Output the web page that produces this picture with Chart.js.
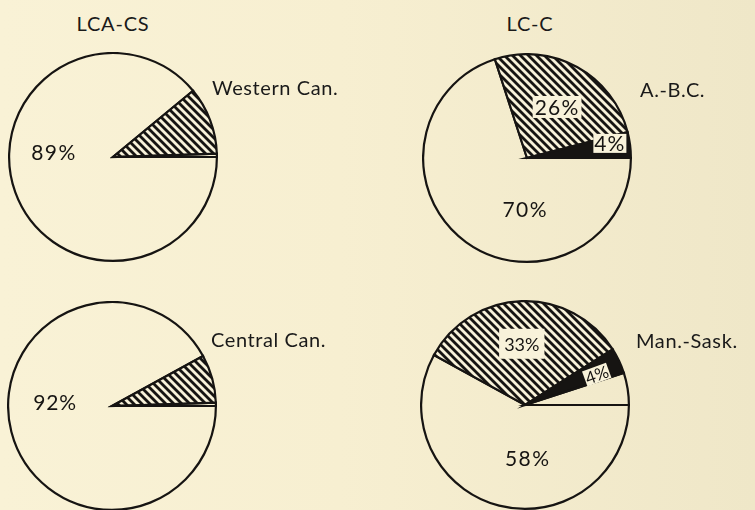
<!DOCTYPE html>
<html>
<head>
<meta charset="utf-8">
<script src="https://cdn.jsdelivr.net/npm/chart.js@4.4.1/dist/chart.umd.min.js"></script>
<style>
  html, body { margin:0; padding:0; }
  body { width:755px; height:510px; overflow:hidden; position:relative;
         background: linear-gradient(90deg, #f9f2d6 0%, #f7efd1 45%, #efe7c8 100%);
         font-family: Lato, "Noto Sans", sans-serif; color:#1a1a1a; }
  canvas { position:absolute; }
  .lbl { position:absolute; font-size:20px; letter-spacing:0.6px; white-space:nowrap; transform:translateY(-50%); }
  .ttl { position:absolute; font-size:20px; letter-spacing:0.8px; white-space:nowrap; transform:translate(-50%,-50%); }
</style>
</head>
<body>
<canvas id="c1" width="210" height="210" style="left:8px;top:52px"></canvas>
<canvas id="c2" width="210" height="210" style="left:422px;top:53px"></canvas>
<canvas id="c3" width="210" height="210" style="left:7px;top:301px"></canvas>
<canvas id="c4" width="210" height="210" style="left:420px;top:300px"></canvas>
<div class="ttl" id="t1" style="left:113px;top:23px"></div>
<div class="ttl" id="t2" style="left:530px;top:23px"></div>
<div class="lbl" id="r1" style="left:212px;top:87px"></div>
<div class="lbl" id="r2" style="left:640px;top:89px"></div>
<div class="lbl" id="r3" style="left:211px;top:339px"></div>
<div class="lbl" id="r4" style="left:636px;top:340px"></div>
<script>
// ---- data ----
const groups = ['LCA-CS', 'LC-C'];
const regions = ['Western Can.', 'A.-B.C.', 'Central Can.', 'Man.-Sask.'];
// slices listed clockwise starting from the 3 o'clock radius
const westernCanShares = [89, 10.5, 0.5];
const westernCanKinds  = ['plain', 'hatched', 'plain'];
const abcShares        = [70, 26, 4];
const abcKinds         = ['plain', 'hatched', 'solid'];
const centralCanShares = [92, 7.5, 0.5];
const centralCanKinds  = ['plain', 'hatched', 'plain'];
const manSaskShares    = [58, 33, 4, 5];
const manSaskKinds     = ['plain', 'hatched', 'solid', 'plain'];

// ---- styles ----
const INK = '#161412';
const PAPER = '#f8f2da';

function hatchPattern() {
  const s = 8;
  const c = document.createElement('canvas');
  c.width = s; c.height = s;
  const x = c.getContext('2d');
  x.fillStyle = PAPER; x.fillRect(0, 0, s, s);
  x.strokeStyle = INK; x.lineWidth = 2.8; x.lineCap = 'square';
  for (const k of [-s, 0, s]) { x.beginPath(); x.moveTo(k, 0); x.lineTo(k + s, s); x.stroke(); }
  return x.createPattern(c, 'repeat');
}
const fillFor = { plain: 'rgba(0,0,0,0)', hatched: null, solid: INK };

const pctLabels = {
  id: 'pctLabels',
  afterDatasetsDraw(chart, args, opts) {
    const meta = chart.getDatasetMeta(0);
    const ctx = chart.ctx;
    (opts.items || []).forEach(it => {
      const arc = meta.data[it.index];
      const p = arc.getProps(['x', 'y', 'outerRadius'], true);
      const a = it.angle * Math.PI / 180;
      const px = p.x + Math.cos(a) * p.outerRadius * it.dist;
      const py = p.y - Math.sin(a) * p.outerRadius * it.dist;
      const txt = Math.round(chart.data.datasets[0].data[it.index]) + '%';
      ctx.save();
      ctx.translate(px, py);
      ctx.rotate(-(it.rotate || 0) * Math.PI / 180);
      ctx.font = it.size + 'px Lato, "Noto Sans", sans-serif';
      if ('letterSpacing' in ctx) ctx.letterSpacing = (it.ls || 0) + 'px';
      if (it.box) {
        const w = ctx.measureText(txt).width + it.padX * 2;
        const h = it.boxH;
        ctx.fillStyle = PAPER;
        ctx.fillRect(-w / 2, -h / 2, w, h);
      }
      ctx.fillStyle = INK;
      ctx.textAlign = 'center';
      ctx.textBaseline = 'middle';
      ctx.fillText(txt, 0, 1);
      ctx.restore();
    });
  }
};

function makePie(id, shares, kinds, labelItems) {
  const pat = hatchPattern();
  new Chart(document.getElementById(id), {
    type: 'pie',
    data: {
      labels: kinds,
      datasets: [{
        data: shares,
        backgroundColor: kinds.map(k => k === 'hatched' ? pat : fillFor[k]),
        borderColor: INK,
        borderWidth: 2.2,
        borderJoinStyle: 'miter'
      }]
    },
    options: {
      responsive: false,
      animation: false,
      rotation: 90,
      layout: { padding: 0 },
      events: [],
      plugins: {
        legend: { display: false },
        tooltip: { enabled: false },
        pctLabels: { items: labelItems }
      }
    },
    plugins: [pctLabels]
  });
}

makePie('c1', westernCanShares, westernCanKinds, [
  { index: 0, angle: 175, dist: 0.57, size: 21, ls: 1.5 }
]);
makePie('c2', abcShares, abcKinds, [
  { index: 1, angle: 59.5, dist: 0.57, size: 21, ls: 1.2, box: true, padX: 2, boxH: 22 },
  { index: 2, angle: 10, dist: 0.81, size: 21, ls: 1, box: true, padX: 1, boxH: 19 },
  { index: 0, angle: -92, dist: 0.49, size: 21, ls: 1.5 }
]);
makePie('c3', centralCanShares, centralCanKinds, [
  { index: 0, angle: 176, dist: 0.55, size: 21, ls: 0.8 }
]);
makePie('c4', manSaskShares, manSaskKinds, [
  { index: 1, angle: 93, dist: 0.59, size: 18, ls: 0, box: true, padX: 5, boxH: 30 },
  { index: 2, angle: 23, dist: 0.75, size: 17, ls: 0, box: true, padX: 1, boxH: 16, rotate: 20 },
  { index: 0, angle: -87, dist: 0.51, size: 21, ls: 1.5 }
]);

document.getElementById('t1').textContent = groups[0];
document.getElementById('t2').textContent = groups[1];
['r1', 'r2', 'r3', 'r4'].forEach((id, i) => document.getElementById(id).textContent = regions[i]);
</script>
</body>
</html>
